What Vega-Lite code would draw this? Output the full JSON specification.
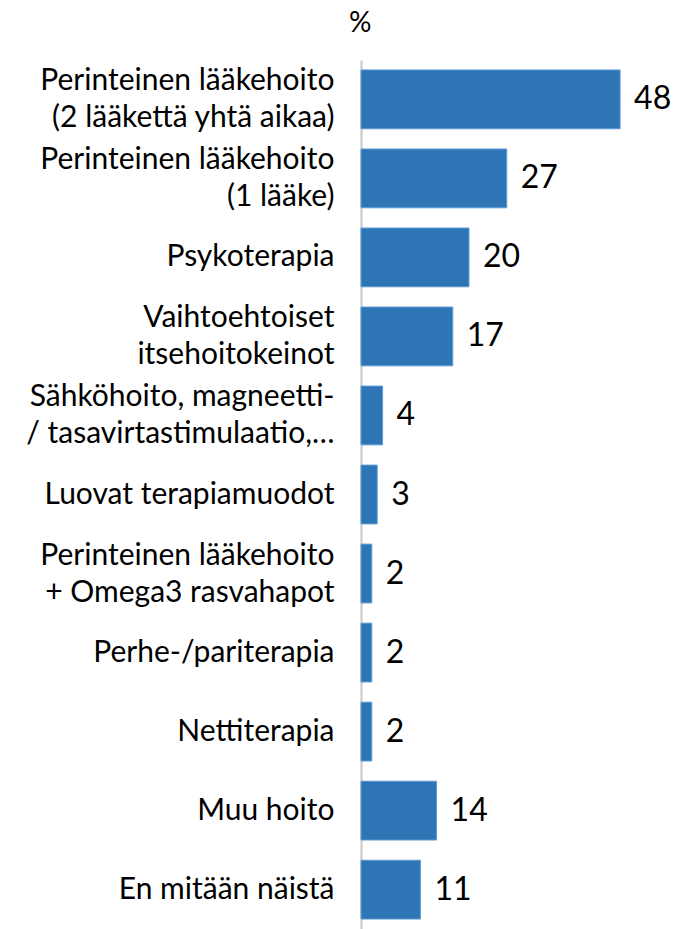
{
  "$schema": "https://vega.github.io/schema/vega-lite/v6.json",
  "autosize": "none",
  "width": 339,
  "height": 869,
  "padding": {"left": 361, "top": 60, "right": 0, "bottom": 0},
  "background": "white",
  "title": {"text": "%", "anchor": "start", "frame": "group", "dx": -12, "offset": 22, "fontSize": 28, "font": "Lato", "fontWeight": "normal", "color": "#000000"},
  "data": {"values": [
    {"hoito": "Perinteinen lääkehoito|(2 lääkettä yhtä aikaa)", "arvo": 48},
    {"hoito": "Perinteinen lääkehoito|(1 lääke)", "arvo": 27},
    {"hoito": "Psykoterapia", "arvo": 20},
    {"hoito": "Vaihtoehtoiset|itsehoitokeinot", "arvo": 17},
    {"hoito": "Sähköhoito, magneetti-|/ tasavirtastimulaatio,…", "arvo": 4},
    {"hoito": "Luovat terapiamuodot", "arvo": 3},
    {"hoito": "Perinteinen lääkehoito|+ Omega3 rasvahapot", "arvo": 2},
    {"hoito": "Perhe-/pariterapia", "arvo": 2},
    {"hoito": "Nettiterapia", "arvo": 2},
    {"hoito": "Muu hoito", "arvo": 14},
    {"hoito": "En mitään näistä", "arvo": 11}
  ]},
  "encoding": {
    "y": {"field": "hoito", "type": "nominal", "sort": null,
      "scale": {"paddingInner": 0.256, "paddingOuter": 0.126},
      "axis": {"title": null, "ticks": false, "domainColor": "#C8C8C8", "domainWidth": 2,
        "labelExpr": "split(datum.label, '|')", "labelFont": "Lato", "labelFontSize": 30,
        "labelColor": "#000000", "labelPadding": 27, "labelLineHeight": 37, "labelLimit": 400,
        "labelOffset": {"condition": {"test": "indexof(datum.value, '|') >= 0", "value": -18}, "value": 0}}},
    "x": {"field": "arvo", "type": "quantitative", "scale": {"domain": [0, 62.8], "nice": false}, "axis": null}
  },
  "layer": [
    {"mark": {"type": "bar", "color": "#2E75B6", "stroke": "#5B9BD5", "strokeWidth": 1}},
    {"mark": {"type": "text", "align": "left", "dx": 14, "fontSize": 32, "font": "Lato", "color": "#000000"},
     "encoding": {"text": {"field": "arvo", "type": "quantitative"}}}
  ],
  "config": {"view": {"stroke": null}}
}
